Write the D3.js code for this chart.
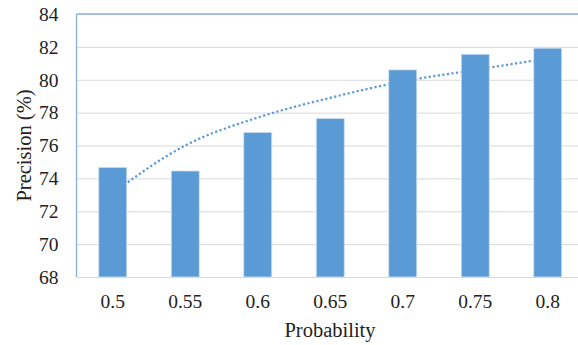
<!DOCTYPE html>
<html>
<head>
<meta charset="utf-8">
<script src="https://cdn.jsdelivr.net/npm/d3@7"></script>
<style>
  svg text { font-family: "Liberation Serif", serif !important; }
</style>
</head>
<body style="margin:0;padding:0;background:#fff">
<svg id="chart" width="578" height="345" font-family="Liberation Serif" style="display:block"></svg>
<script>
const categories = ["0.5", "0.55", "0.6", "0.65", "0.7", "0.75", "0.8"];
const precisionValues = [74.67, 74.45, 76.8, 77.65, 80.6, 81.55, 81.92];
const trendValues = [73.1, 76.0, 77.7, 78.9, 79.9, 80.6, 81.3];
const yTicks = [68, 70, 72, 74, 76, 78, 80, 82, 84];
const xTitle = "Probability";
const yTitle = "Precision (%)";

(function () {
const FONT = "Liberation Serif";
const svg = d3.select("#chart");
const mLeft = 76.5, mTop = 14, mBottom = 277, mRight = 584;

const x = d3.scaleBand().domain(categories).range([mLeft, mRight]).paddingInner(0.614).paddingOuter(0.307);
const y = d3.scaleLinear().domain([68, 84]).range([mBottom, mTop]);

// gridlines + y tick labels
const yAxis = d3.axisLeft(y).tickValues(yTicks).tickSize(-(mRight - mLeft)).tickPadding(18).tickFormat(d3.format("d"));
const gy = svg.append("g").attr("transform", `translate(${mLeft},0)`).call(yAxis)
  .attr("font-family", FONT).attr("font-size", 19.5);
gy.select(".domain").remove();
gy.selectAll(".tick line").attr("stroke", "#d9d9d9").attr("stroke-width", 1);
gy.selectAll(".tick text").attr("fill", "#222").style("font-family", FONT, "important").attr("font-size", 19.5);

// trend line (behind bars)
const line = d3.line()
  .x((d, i) => x(categories[i]) + x.bandwidth() / 2)
  .y(d => y(d))
  .curve(d3.curveMonotoneX);
svg.append("path").datum(trendValues)
  .attr("d", line)
  .attr("fill", "none")
  .attr("stroke", "#5B9BD5")
  .attr("stroke-width", 2.25)
  .attr("stroke-dasharray", "2.2 2.4");

// bars
svg.append("g").selectAll("rect").data(precisionValues).join("rect")
  .attr("x", (d, i) => x(categories[i]))
  .attr("width", x.bandwidth())
  .attr("y", d => y(d))
  .attr("height", d => y(68) - y(d))
  .attr("fill", "#5B9BD5")
  .attr("stroke", "#cfe0f2")
  .attr("stroke-width", 0.8);

// plot border (left and top)
svg.append("line").attr("x1", mLeft).attr("x2", mLeft).attr("y1", mTop).attr("y2", mBottom)
  .attr("stroke", "#86b2e2").attr("stroke-width", 1.3);
svg.append("line").attr("x1", mLeft).attr("x2", 578).attr("y1", mTop).attr("y2", mTop)
  .attr("stroke", "#86b2e2").attr("stroke-width", 1.3);

// x axis labels
const xAxis = d3.axisBottom(x).tickSize(0).tickPadding(0);
const gx = svg.append("g").attr("transform", `translate(0,${mBottom})`).call(xAxis)
  .attr("font-family", FONT).attr("font-size", 19.5);
gx.select(".domain").remove();
gx.selectAll(".tick text").attr("fill", "#222").style("font-family", FONT, "important").attr("font-size", 19.5)
  .attr("dy", null).attr("y", 31);

// axis titles
svg.append("text").attr("x", 330).attr("y", 337).attr("text-anchor", "middle")
  .style("font-family", FONT, "important").attr("font-size", 20.5).attr("fill", "#222").text(xTitle);
svg.append("text").attr("transform", "translate(31,145.5) rotate(-90)").attr("text-anchor", "middle")
  .style("font-family", FONT, "important").attr("font-size", 20.5).attr("fill", "#222").text(yTitle);
})();
</script>
</body>
</html>
